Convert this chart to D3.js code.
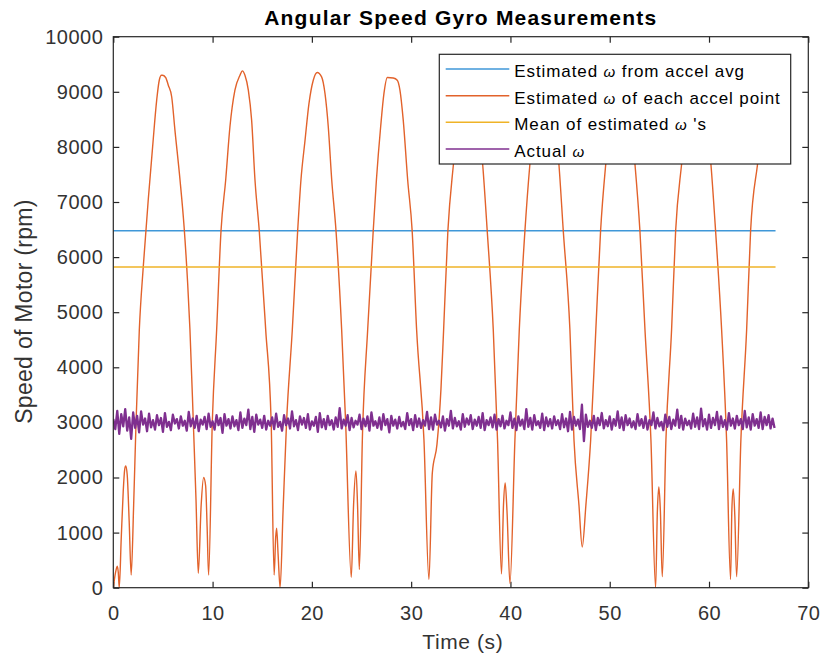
<!DOCTYPE html>
<html>
<head>
<meta charset="utf-8">
<script src="https://cdn.jsdelivr.net/npm/d3@7"></script>
<style>
  body { margin: 0; background: #fff; }
  svg { display: block; font-family: "Liberation Sans", Arial, sans-serif; }
</style>
</head>
<body>
<div id="chart"></div>
<script>
// Dados
const xTicks = [0, 10, 20, 30, 40, 50, 60, 70];
const yTicks = [0, 1000, 2000, 3000, 4000, 5000, 6000, 7000, 8000, 9000, 10000];

const seriesNames = ["Estimated ω from accel avg", "Estimated ω of each accel point", "Mean of estimated ω 's", "Actual ω"];
const seriesColors = ["#3f97d8", "#e2622b", "#efb327", "#7f2f8f"];

const timeRange = [0, 66.7];
const omegaFromAvg = 6479;
const meanOfEstimated = 5820;

// ω estimado de cada ponto do acelerômetro
const accelTime = [
  0, 0.2, 0.4, 0.5, 0.6, 0.8, 1.0, 1.15, 1.25, 1.4, 1.6, 1.8, 2.05, 2.29, 2.62, 3.02, 3.52, 3.96, 4.37, 4.63, 4.85, 4.95, 5.27, 5.54, 5.88, 6.21, 6.72, 7.13, 7.49, 7.72, 8.06, 8.33, 8.56,
  8.85, 9.1, 9.3, 9.45, 9.6, 9.97, 10.41, 10.85, 11.32, 11.75, 12.25, 12.76, 13.0, 13.26, 13.6, 13.93, 14.27, 14.7, 15.35, 15.9, 16.2,
  16.35, 16.45, 16.6, 16.8, 17.1, 17.45, 18.03, 18.57, 18.9, 19.3, 19.71, 20.14, 20.54, 20.98, 21.32, 21.65, 22.0, 22.43, 23.0, 23.4, 23.97,
  24.2, 24.44, 24.6, 24.78, 25.1, 25.62, 26.18, 26.5, 26.93, 27.26, 27.6, 28.2, 28.6, 28.87, 29.2, 29.65, 30.1, 30.55, 31.29, 31.79,
  32.13, 32.6, 33.0, 33.27, 33.7, 34.26, 34.9, 35.7, 36.5, 37.2, 37.66, 38.27, 38.7, 39.1,
  39.3, 39.47, 39.65, 39.95, 40.45, 40.89, 41.46, 41.96, 42.6, 43.4, 44.2, 44.88, 45.32, 45.99, 46.4, 46.9, 47.23, 47.6, 48.08,
  48.6, 49.08, 49.6, 50.3, 51.1, 51.9, 52.54, 53.04, 53.55, 54.15, 54.62,
  54.8, 54.95, 55.1, 55.29, 55.66, 56.23, 56.64, 57.24, 57.9, 58.7, 59.5, 60.19, 60.66, 61.27, 61.77, 62.17,
  62.3, 62.44, 62.6, 62.78, 63.21, 63.79, 64.19, 64.89, 65.8, 66.7
];
const accelOmega = [
  0, 250, 390, 280, 0, 900, 1750, 2150, 2210, 2050, 1200, 230, 1500, 3000, 4680, 5830, 7040, 8000, 8850, 9210, 9300, 9300, 9260, 9120, 8910, 8300, 7400, 6550, 5520, 4680, 3000, 1600, 260,
  1500, 2000, 1850, 1100, 230, 3000, 4680, 6480, 7400, 8370, 9030, 9300, 9380, 9300, 9030, 8490, 7400, 6480, 4680, 3000, 230,
  900, 1080, 600, 0, 1400, 3000, 4680, 6480, 7400, 8100, 8790, 9210, 9350, 9270, 8970, 8370, 7400, 6480, 4680, 3000, 190,
  1500, 2120, 1500, 330, 2800, 4680, 6480, 7400, 8370, 8970, 9260, 9250, 9210, 9030, 8490, 7400, 6480, 4680, 2680, 150,
  2080, 2600, 3600, 4680, 6480, 7690, 8800, 9300, 8800, 7690, 6480, 4680, 2680, 250,
  1500, 1900, 1400, 80, 2680, 4680, 6480, 7690, 8800, 9300, 8800, 7690, 6480, 4680, 2680, 1500, 740, 1500, 2680,
  4680, 6480, 7690, 8800, 9300, 8800, 7690, 6480, 4680, 2680, 0,
  1400, 1830, 1400, 200, 2680, 4680, 6480, 7690, 8800, 9300, 8800, 7690, 6480, 4680, 2680, 150,
  1400, 1790, 1300, 200, 2680, 4680, 6480, 7690, 9000, 9300
];

// ω real (giroscópio), amostrado a cada 0.2 s
const actualStep = 0.2;
const actualOmega = [
  3060,2880,3210,2790,3150,2930,3240,2850,3090,2700,3180,2900,3120,2820,3200,2960,3070,2840,3160,2910,
  3040,2870,3130,2950,3080,2830,3170,2920,3010,2860,3140,2980,3060,2890,3110,2940,3030,2850,3190,2930,
  3070,2900,3120,2840,3050,2960,3100,2880,3160,2920,3020,2870,3130,2950,3080,2810,3150,2940,3060,2890,
  3110,2930,3040,2860,3180,2900,3070,2950,3230,2880,3100,2830,3140,2960,3050,2900,3120,2870,3030,2940,
  3090,2880,3160,2920,3010,2850,3130,2950,3070,2890,3200,2930,3040,2860,3110,2960,3080,2900,3150,2870,
  3020,2940,3100,2830,3170,2910,3060,2880,3120,2950,3040,2870,3090,2920,3260,2890,3050,2940,3130,2860,
  3080,2910,3030,2960,3140,2880,3070,2930,3110,2850,3180,2940,3020,2900,3090,2870,3150,2950,3060,2820,
  3120,2940,3050,2890,3100,2930,3010,2880,3170,2950,3060,2860,3130,2920,3070,2900,3040,2940,3190,2880,
  3090,2870,3140,2960,3030,2910,3110,2850,3060,2940,3210,2890,3080,2930,3020,2870,3150,2920,3070,2960,
  3130,2880,3050,2940,3100,2900,3170,2860,3040,2950,3090,2910,3140,2870,3060,2930,3120,2890,3030,2950,
  3180,2900,3070,2860,3110,2940,3050,2880,3240,2920,3080,2870,3130,2950,3020,2900,3160,2860,3090,2930,
  3060,2890,3110,2950,3040,2880,3150,2910,3070,2840,3190,2870,3100,2940,3050,2880,3320,2660,3140,2920,
  3030,2900,3120,2860,3080,2950,3170,2890,3040,2930,3110,2870,3060,2940,3200,2900,3090,2860,3130,2950,
  3070,2910,3020,2880,3150,2940,3060,2900,3110,2870,3040,2950,3180,2890,3080,2930,3010,2860,3140,2920,
  3100,2880,3050,2940,3230,2900,3120,2870,3070,2950,3030,2890,3160,2920,3090,2880,3250,2930,3060,2870,
  3140,2900,3080,2950,3190,2880,3110,2920,3040,2870,3170,2940,3070,2890,3120,2950,3060,2880,3210,2910,
  3090,2870,3150,2940,3060,2900,3180,2880,3100,2950,3130,2890,3070,2900
];

// Proporções
const fullWidth = 826;
const fullHeight = 659;
const margin = { top: 36.7, right: 17.7, bottom: 71.3, left: 113.3 };
const width = fullWidth - margin.left - margin.right;
const height = fullHeight - margin.top - margin.bottom;
const axisColor = "#262626";

const svg = d3.select("#chart").append("svg")
    .attr("width", fullWidth)
    .attr("height", fullHeight);

const x = d3.scaleLinear().domain([0, 70]).range([margin.left, margin.left + width]);
const y = d3.scaleLinear().domain([0, 10000]).range([margin.top + height, margin.top]);

svg.append("defs").append("clipPath").attr("id", "plot-clip")
    .append("rect")
        .attr("x", margin.left).attr("y", margin.top)
        .attr("width", width).attr("height", height);

// Eixos (ticks para dentro, caixa fechada)
function styleAxis(g) {
    g.select(".domain").remove();
    g.selectAll(".tick line").attr("stroke", axisColor).attr("stroke-width", 1.2);
    g.selectAll(".tick text")
        .attr("fill", "#333")
        .style("font-size", "20px")
        .style("letter-spacing", "0.5px");
}

svg.append("g")
    .attr("transform", `translate(0,${margin.top + height})`)
    .call(d3.axisBottom(x).tickValues(xTicks).tickSize(-6).tickPadding(18).tickFormat(d3.format("d")))
    .call(styleAxis);

svg.append("g")
    .attr("transform", `translate(${margin.left},0)`)
    .call(d3.axisLeft(y).tickValues(yTicks).tickSize(-6).tickPadding(10).tickFormat(d3.format("d")))
    .call(styleAxis);

svg.append("g")
    .attr("transform", `translate(0,${margin.top})`)
    .call(d3.axisTop(x).tickValues(xTicks).tickSize(-6).tickFormat(""))
    .call(styleAxis);

svg.append("g")
    .attr("transform", `translate(${margin.left + width},0)`)
    .call(d3.axisRight(y).tickValues(yTicks).tickSize(-6).tickFormat(""))
    .call(styleAxis);

// Séries
const plot = svg.append("g").attr("clip-path", "url(#plot-clip)");

const line = d3.line()
    .x(d => x(d[0]))
    .y(d => y(d[1]));

plot.append("path")
    .datum(timeRange.map(t => [t, omegaFromAvg]))
    .attr("fill", "none")
    .attr("stroke", seriesColors[0])
    .attr("stroke-width", 1.6)
    .attr("d", line);

plot.append("path")
    .datum(accelTime.map((t, i) => [t, accelOmega[i]]))
    .attr("fill", "none")
    .attr("stroke", seriesColors[1])
    .attr("stroke-width", 1.4)
    .attr("stroke-linejoin", "round")
    .attr("d", line.curve(d3.curveMonotoneX));

line.curve(d3.curveLinear);

plot.append("path")
    .datum(timeRange.map(t => [t, meanOfEstimated]))
    .attr("fill", "none")
    .attr("stroke", seriesColors[2])
    .attr("stroke-width", 1.5)
    .attr("d", line);

plot.append("path")
    .datum(actualOmega.map((v, i) => [i * actualStep, v]))
    .attr("fill", "none")
    .attr("stroke", seriesColors[3])
    .attr("stroke-width", 2.3)
    .attr("stroke-linejoin", "round")
    .attr("d", line);

// Caixa do gráfico
svg.append("rect")
    .attr("x", margin.left).attr("y", margin.top)
    .attr("width", width).attr("height", height)
    .attr("fill", "none")
    .attr("stroke", axisColor)
    .attr("stroke-width", 1.2);

// Título e rótulos
svg.append("text")
    .attr("x", margin.left + width / 2)
    .attr("y", 25)
    .attr("text-anchor", "middle")
    .style("font-size", "21px")
    .style("font-weight", "bold")
    .style("letter-spacing", "1.2px")
    .attr("fill", "#000")
    .text("Angular Speed Gyro Measurements");

svg.append("text")
    .attr("x", margin.left + width / 2 + 2)
    .attr("y", 649)
    .attr("text-anchor", "middle")
    .style("font-size", "21px")
    .style("letter-spacing", "0.6px")
    .attr("fill", "#333")
    .text("Time (s)");

svg.append("text")
    .attr("transform", "rotate(-90)")
    .attr("x", -311.5)
    .attr("y", 32)
    .attr("text-anchor", "middle")
    .style("font-size", "23px")
    .style("letter-spacing", "0.3px")
    .attr("fill", "#333")
    .text("Speed of Motor (rpm)");

// Legenda
const legend = svg.append("g").attr("transform", "translate(439.3,54.3)");

legend.append("rect")
    .attr("width", 351.4)
    .attr("height", 109.7)
    .attr("fill", "#fff")
    .attr("stroke", axisColor)
    .attr("stroke-width", 1.2);

const rows = legend.selectAll("g.row")
    .data(seriesNames)
    .enter()
    .append("g")
        .attr("class", "row")
        .attr("transform", (d, i) => `translate(0,${14.7 + i * 26.67})`);

rows.append("line")
    .attr("x1", 6.4).attr("x2", 70)
    .attr("stroke", (d, i) => seriesColors[i])
    .attr("stroke-width", 1.5);

rows.append("text")
    .attr("x", 75)
    .attr("y", 8)
    .style("font-size", "17px")
    .style("letter-spacing", "0.9px")
    .attr("fill", "#000")
    .each(function(d) {
        const parts = d.split("ω");
        const t = d3.select(this);
        t.append("tspan").text(parts[0]);
        t.append("tspan").style("font-style", "italic").style("font-size", "15px").text("ω");
        t.append("tspan").text(parts[1]);
    });
</script>
</body>
</html>
